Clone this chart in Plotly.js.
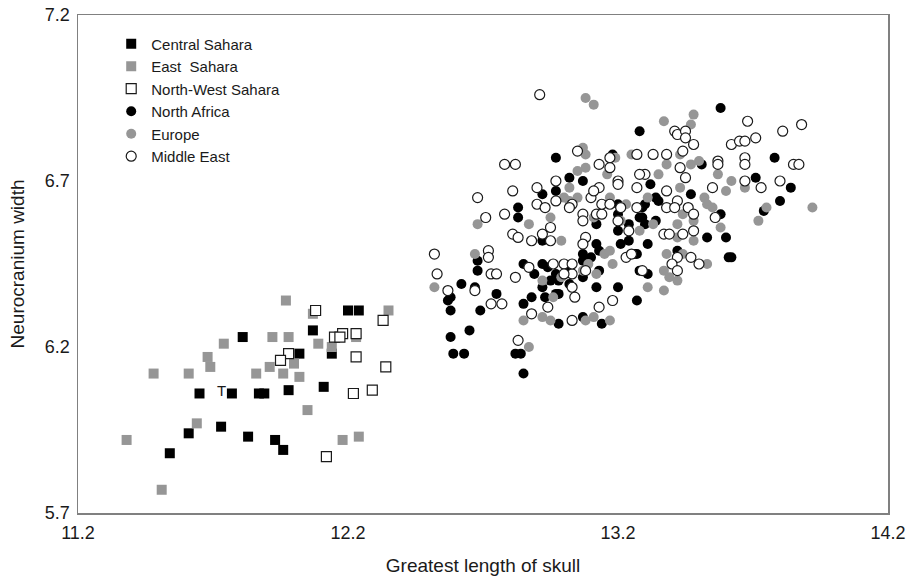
<!DOCTYPE html>
<html>
<head>
<meta charset="utf-8">
<script src="https://cdn.plot.ly/plotly-3.0.1.min.js"></script>
<style>html,body{margin:0;padding:0;background:#fff;}#chart{width:909px;height:581px;}</style>
</head>
<body>
<div id="chart"></div>
<script>
// ---- data ----
const seriesNames = ["Central Sahara", "East  Sahara", "North-West Sahara", "North Africa", "Europe", "Middle East"];

const centralSaharaX = [11.81, 12.20, 12.24, 12.07, 12.02, 12.14, 11.65, 11.77, 11.87, 11.89, 11.98, 12.11, 11.61, 11.73, 11.83, 11.93, 11.96, 11.54];
const centralSaharaY = [6.23, 6.31, 6.31, 6.25, 6.18, 6.18, 6.06, 6.06, 6.06, 6.06, 6.07, 6.08, 5.94, 5.96, 5.93, 5.92, 5.89, 5.88];

const eastSaharaX = [11.97, 12.07, 12.35, 11.74, 11.92, 11.98, 11.68, 11.69, 11.48, 11.61, 11.86, 11.91, 11.96, 12.00, 12.02, 12.09, 12.14, 12.23, 12.05, 11.64, 11.38, 12.18, 12.24, 11.51];
const eastSaharaY = [6.34, 6.30, 6.31, 6.21, 6.23, 6.23, 6.17, 6.14, 6.12, 6.12, 6.12, 6.14, 6.12, 6.15, 6.11, 6.21, 6.20, 6.23, 6.01, 5.97, 5.92, 5.92, 5.93, 5.77];

const nwSaharaX = [12.08, 12.33, 12.15, 12.18, 12.17, 12.23, 12.23, 11.98, 11.95, 12.34, 12.22, 12.29, 12.12];
const nwSaharaY = [6.31, 6.28, 6.23, 6.24, 6.23, 6.24, 6.17, 6.18, 6.16, 6.14, 6.06, 6.07, 5.87];

const northAfricaX = [13.28, 12.97, 13.18, 13.02, 13.07, 12.92, 12.97, 12.83, 12.83, 13.29, 13.29, 12.92, 13.12, 13.13, 13.07, 13.10, 13.21, 13.24, 13.27, 13.20, 13.24, 13.31,
  12.58, 12.57, 12.58, 12.62, 12.68, 12.68, 12.67, 12.75, 12.69, 12.65, 12.58, 12.59, 12.63,
  12.85, 12.89, 12.92, 12.92, 12.97, 12.98, 13.02, 13.02, 13.07, 13.07, 13.12, 13.20, 13.31,
  12.88, 12.85, 12.93, 12.98, 12.98, 13.07, 13.14, 13.27, 12.82, 12.84, 12.85,
  13.58, 13.51, 13.71, 13.78, 13.84, 13.80, 13.74, 13.32, 13.47, 13.35, 13.58, 13.30, 13.34, 13.53, 13.60, 13.42, 13.61, 13.62,
  13.20, 13.30, 13.34, 13.12, 13.20, 13.28, 13.26, 12.94, 13.13, 12.95, 13.28, 12.97];
const northAfricaY = [6.85, 6.77, 6.78, 6.71, 6.70, 6.66, 6.67, 6.62, 6.59, 6.62, 6.59, 6.52, 6.51, 6.49, 6.48, 6.47, 6.51, 6.52, 6.48, 6.55, 6.57, 6.51,
  6.35, 6.34, 6.31, 6.39, 6.46, 6.43, 6.38, 6.36, 6.31, 6.25, 6.23, 6.18, 6.18,
  6.45, 6.42, 6.45, 6.38, 6.42, 6.40, 6.44, 6.39, 6.41, 6.46, 6.38, 6.38, 6.42,
  6.35, 6.33, 6.35, 6.36, 6.27, 6.29, 6.27, 6.34, 6.18, 6.18, 6.12,
  6.92, 6.75, 6.71, 6.77, 6.68, 6.64, 6.61, 6.69, 6.66, 6.64, 6.60, 6.57, 6.58, 6.53, 6.53, 6.49, 6.47, 6.47,
  6.63, 6.63, 6.65, 6.57, 6.60, 6.59, 6.48, 6.44, 6.43, 6.40, 6.43, 6.36];

const europeX = [13.08, 13.11, 13.07, 13.08, 13.19, 13.25, 13.05, 13.08, 13.02, 13.16, 13.00, 13.05, 13.11, 13.17, 13.29,
  12.87, 12.95, 13.07, 13.23, 13.21, 12.68, 12.99, 13.15, 13.18, 13.28, 12.52, 12.67, 12.92, 13.09, 13.12, 13.31,
  12.96, 12.85, 12.95, 13.08, 13.17, 12.87,
  13.48, 13.37, 13.47, 13.38, 13.43, 13.47, 13.50, 13.57, 13.67, 13.62, 13.60, 13.75, 13.72, 13.92, 13.35, 13.43,
  13.52, 13.53, 13.55, 13.44, 13.48, 13.58, 13.33, 13.42, 13.42, 13.48, 13.38, 13.44, 13.53, 13.37, 13.39, 13.42, 13.37,
  13.02, 13.31, 13.11, 13.24, 13.17, 13.07, 12.99, 13.11, 12.92];
const europeY = [6.95, 6.93, 6.80, 6.78, 6.77, 6.78, 6.73, 6.74, 6.68, 6.72, 6.65, 6.65, 6.67, 6.65, 6.72,
  6.57, 6.59, 6.58, 6.63, 6.58, 6.57, 6.52, 6.48, 6.45, 6.55, 6.38, 6.48, 6.40, 6.45, 6.42, 6.38,
  6.35, 6.28, 6.28, 6.28, 6.28, 6.20,
  6.90, 6.88, 6.87, 6.75, 6.78, 6.75, 6.76, 6.72, 6.68, 6.70, 6.67, 6.62, 6.58, 6.62, 6.72, 6.68,
  6.65, 6.63, 6.62, 6.60, 6.58, 6.56, 6.57, 6.57, 6.53, 6.52, 6.48, 6.48, 6.45, 6.43, 6.41, 6.40, 6.37,
  6.64, 6.65, 6.59, 6.55, 6.49, 6.43, 6.41, 6.29, 6.29];

const middleEastX = [12.91, 13.05, 13.17, 13.27, 12.78, 12.82, 13.13, 13.17, 12.97, 13.20, 13.20, 12.68, 12.81, 12.90, 12.97, 13.10, 13.13, 13.27, 13.30,
  12.78, 12.90, 12.93, 13.03, 13.02, 13.07, 13.12, 13.14, 13.14, 13.17, 13.21, 13.27, 13.20, 12.71,
  12.81, 12.83, 12.88, 12.92, 12.95, 12.95, 13.08, 13.07, 13.23, 13.25, 13.24,
  12.52, 12.53, 12.57, 12.72, 12.72, 12.73, 12.75, 12.67, 12.73, 12.77, 12.82, 12.87, 12.96, 13.00, 13.03, 13.03, 13.08, 13.29,
  13.04, 12.94, 12.88, 13.03, 13.13, 13.18, 12.83,
  13.68, 13.88, 13.81, 13.41, 13.42, 13.45, 13.45, 13.48, 13.62, 13.65, 13.67, 13.71, 13.33, 13.38, 13.43, 13.44,
  13.57, 13.57, 13.67, 13.67, 13.67, 13.85, 13.87, 13.80, 13.73, 13.28, 13.45, 13.38, 13.55, 13.42, 13.38, 13.41, 13.46,
  13.56, 13.48, 13.37, 13.39, 13.44, 13.48, 13.42, 13.47, 13.50, 13.40, 13.42,
  13.07, 13.03, 13.00, 13.11];
const middleEastY = [6.96, 6.79, 6.77, 6.78, 6.75, 6.75, 6.75, 6.74, 6.70, 6.70, 6.69, 6.65, 6.67, 6.68, 6.64, 6.65, 6.68, 6.68, 6.72,
  6.60, 6.63, 6.62, 6.63, 6.62, 6.60, 6.60, 6.60, 6.63, 6.63, 6.62, 6.62, 6.58, 6.59,
  6.54, 6.53, 6.52, 6.54, 6.52, 6.56, 6.53, 6.51, 6.47, 6.48, 6.55,
  6.48, 6.42, 6.37, 6.49, 6.47, 6.42, 6.42, 6.37, 6.33, 6.33, 6.41, 6.44, 6.45, 6.45, 6.42, 6.38, 6.43, 6.43,
  6.35, 6.32, 6.30, 6.28, 6.32, 6.34, 6.22,
  6.88, 6.87, 6.85, 6.85, 6.84, 6.85, 6.83, 6.81, 6.81, 6.82, 6.82, 6.83, 6.78, 6.78, 6.74, 6.79,
  6.76, 6.75, 6.77, 6.75, 6.70, 6.75, 6.75, 6.70, 6.68, 6.72, 6.71, 6.67, 6.68, 6.64, 6.62, 6.62, 6.62,
  6.59, 6.60, 6.54, 6.54, 6.54, 6.55, 6.47, 6.47, 6.45, 6.45, 6.43,
  6.58, 6.45, 6.42, 6.67];

const xTickVals = [11.2, 12.2, 13.2, 14.2];
const yTickVals = [5.7, 6.2, 6.7, 7.2];
const noteText = "T";
const noteX = 11.73, noteY = 6.07;

// ---- styles ----
const BLACK = "#000000", GREY = "#969696", OUTLINE = "#1a1a1a";
const FONT = "Liberation Sans, Arial, sans-serif";
const MS = 10;

function mk(name, x, y, symbol, color, open) {
  return {
    type: "scatter", mode: "markers", name: name, x: x, y: y,
    marker: open
      ? {symbol: symbol, size: MS, color: "#ffffff", line: {color: OUTLINE, width: 1.2}}
      : {symbol: symbol, size: MS, color: color, line: {width: 0}},
    hoverinfo: "x+y+name"
  };
}

const traces = [
  mk(seriesNames[0], centralSaharaX, centralSaharaY, "square", BLACK, false),
  mk(seriesNames[1], eastSaharaX, eastSaharaY, "square", GREY, false),
  mk(seriesNames[2], nwSaharaX, nwSaharaY, "square", null, true),
  mk(seriesNames[3], northAfricaX, northAfricaY, "circle", BLACK, false),
  mk(seriesNames[4], europeX, europeY, "circle", GREY, false),
  mk(seriesNames[5], middleEastX, middleEastY, "circle", null, true)
];

const axisCommon = {
  showgrid: false, zeroline: false, showline: true, mirror: true,
  linecolor: "#808080", linewidth: 1.5, ticks: "",
  tickfont: {family: FONT, size: 18, color: "#1a1a1a"},
};

const layout = {
  width: 909, height: 581,
  margin: {l: 78, r: 21, t: 15, b: 68},
  paper_bgcolor: "#ffffff", plot_bgcolor: "#ffffff",
  showlegend: true,
  legend: {
    x: 0.041, y: 0.975, xanchor: "left", yanchor: "top",
    bgcolor: "rgba(0,0,0,0)", borderwidth: 0,
    font: {family: FONT, size: 15, color: "#1a1a1a"},
    itemwidth: 30
  },
  xaxis: Object.assign({}, axisCommon, {
    range: [11.2, 14.2], tickvals: xTickVals, ticktext: xTickVals.map(v => v.toFixed(1)),
    ticklabelstandoff: 3,
    title: {text: "Greatest length of skull", font: {family: FONT, size: 19, color: "#1a1a1a"}, standoff: 16}
  }),
  yaxis: Object.assign({}, axisCommon, {
    range: [5.7, 7.2], tickvals: yTickVals, ticktext: yTickVals.map(v => v.toFixed(1)),
    ticklabelstandoff: 3,
    title: {text: "Neurocranium width", font: {family: FONT, size: 19, color: "#1a1a1a"}, standoff: 15}
  }),
  annotations: [{
    x: noteX, y: noteY, xref: "x", yref: "y", text: noteText, showarrow: false,
    font: {family: FONT, size: 15, color: "#1a1a1a"}
  }]
};

Plotly.newPlot("chart", traces, layout, {displayModeBar: false, staticPlot: true});
</script>
</body>
</html>
